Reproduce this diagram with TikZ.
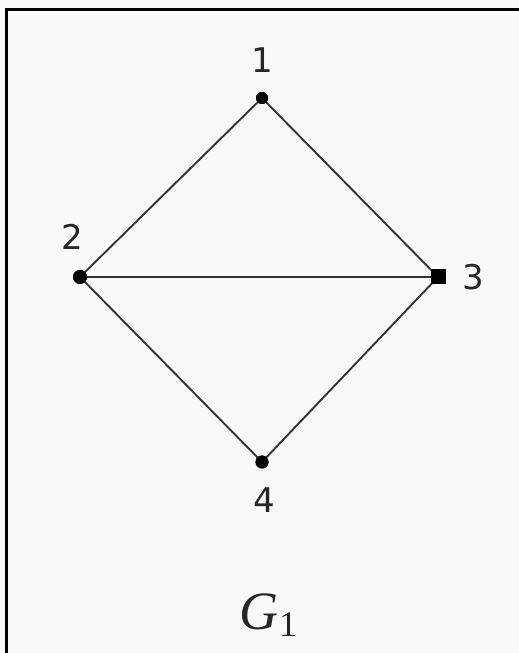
\documentclass[tikz,border=0pt]{standalone}
\usepackage{fontspec}
\setsansfont{DejaVu Sans}
\setmainfont{Liberation Serif}
\begin{document}
\begin{tikzpicture}[x=1pt,y=1pt,
  dot/.style={circle,fill=black,inner sep=0pt},
  sq/.style={rectangle,fill=black,inner sep=0pt,minimum size=15pt},
  lbl/.style={font=\sffamily\fontsize{34}{34}\selectfont,text=black!85},
  edge/.style={line width=1.9pt,draw=black!80}]
\fill[white!95!gray] (0,0) rectangle (519,653);
\useasboundingbox (0,0) rectangle (519,653);
\draw[line width=3pt,black] (6,0) -- (6,643.5) -- (519,643.5);
\node[dot,minimum size=12pt] (n1) at (262,555) {};
\node[dot,minimum size=14pt] (n2) at (80,376) {};
\node[sq] (n3) at (438,376) {};
\node[dot,minimum size=13pt] (n4) at (262,191) {};
\draw[edge] (n1.center) -- (n2.center) -- (n4.center) -- (n3.center) -- (n1.center);
\draw[edge] (n2.center) -- (n3.center);
\node[dot,minimum size=12pt] at (n1) {};
\node[dot,minimum size=14pt] at (n2) {};
\node[sq] at (n3) {};
\node[dot,minimum size=13pt] at (n4) {};
\node[lbl] (l1) at (262,593) {1};
\node[lbl] (l2) at (72,416) {2};
\node[lbl] (l3) at (473,376) {3};
\node[lbl] (l4) at (264,153) {4};
\node[font=\fontsize{54}{54}\selectfont,text=black!85] (g) at (268,38)
  {\itshape G\kern1pt\raisebox{-7pt}{\upshape\fontsize{36}{36}\selectfont 1}};
\end{tikzpicture}
\end{document}
